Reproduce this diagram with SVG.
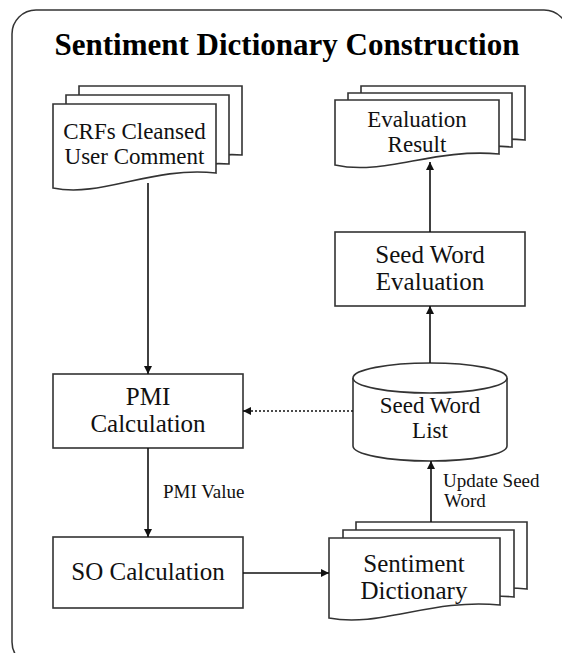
<svg xmlns="http://www.w3.org/2000/svg" width="562" height="653" viewBox="0 0 562 653">
  <defs>
    <marker id="arrow" viewBox="0 0 10 10" refX="10" refY="5" markerWidth="8" markerHeight="8" markerUnits="userSpaceOnUse" orient="auto">
      <path d="M0,0 L10,5 L0,10 Z" fill="#111"/>
    </marker>
  </defs>
  <style>
    .frame { fill: #fff; stroke: #333; stroke-width: 1.5; }
    .shape { fill: #fff; stroke: #333; stroke-width: 1.6; }
    .line { fill: none; stroke: #111; stroke-width: 1.6; }
    .dotted { fill: none; stroke: #111; stroke-width: 1.6; stroke-dasharray: 2 2; }
    text { font-family: 'Liberation Serif', 'Times New Roman', Tinos, 'DejaVu Serif', serif; }
    .title { font-weight: bold; font-size: 31px; fill: #000; text-anchor: middle; }
    .t { fill: #111; text-anchor: middle; }
    .lbl { font-size: 19px; fill: #111; }
  </style>

  <rect width="562" height="653" fill="#fff"/>
  <rect class="frame" x="12" y="10" width="556" height="656" rx="24" ry="24"/>

  <text class="title" x="287" y="55">Sentiment Dictionary Construction</text>

  <!-- stacked document: CRFs cleansed comments -->
  <g id="crfs-comment">
    <path class="shape" d="M79,86 H242 V155 C193,151 144,178 79,170 Z"/>
    <path class="shape" d="M66,95 H229 V164 C180,160 131,187 66,179 Z"/>
    <path class="shape" d="M53,104 H216 V173 C151,166 102,198 53,188 Z"/>
    <text class="t" font-size="23" x="134.5" y="139">CRFs Cleansed</text>
    <text class="t" font-size="23" x="134.5" y="164">User Comment</text>
  </g>

  <!-- stacked document: evaluation result -->
  <g id="evaluation-result">
    <path class="shape" d="M361,86 H525 V140 C459,134 410,162 361,151 Z"/>
    <path class="shape" d="M348,93 H512 V147 C446,141 397,169 348,158 Z"/>
    <path class="shape" d="M335,100 H499 V154 C433,148 384,176 335,165 Z"/>
    <text class="t" font-size="23" x="417" y="127">Evaluation</text>
    <text class="t" font-size="23" x="417" y="152">Result</text>
  </g>

  <g id="seed-word-evaluation">
    <rect class="shape" x="335" y="232" width="190" height="74"/>
    <text class="t" font-size="25" x="430" y="263">Seed Word</text>
    <text class="t" font-size="25" x="430" y="290">Evaluation</text>
  </g>

  <!-- database cylinder -->
  <g id="seed-word-list">
    <path class="shape" d="M353,378 V446 A77,15 0 0 0 507,446 V378"/>
    <ellipse class="shape" cx="430" cy="378" rx="77" ry="15"/>
    <text class="t" font-size="23" x="430" y="413">Seed Word</text>
    <text class="t" font-size="23" x="430" y="438">List</text>
  </g>

  <g id="pmi-calculation">
    <rect class="shape" x="53" y="374" width="190" height="74"/>
    <text class="t" font-size="25" x="148" y="405">PMI</text>
    <text class="t" font-size="25" x="148" y="432">Calculation</text>
  </g>

  <g id="so-calculation">
    <rect class="shape" x="53" y="537" width="190" height="71"/>
    <text class="t" font-size="25" x="148" y="580">SO Calculation</text>
  </g>

  <!-- stacked document: sentiment dictionary -->
  <g id="sentiment-dictionary">
    <path class="shape" d="M356,522 H527 V589 C458,582 407,612 356,602 Z"/>
    <path class="shape" d="M343,530 H514 V597 C445,590 394,620 343,610 Z"/>
    <path class="shape" d="M329,538 H500 V605 C431,598 380,628 329,618 Z"/>
    <text class="t" font-size="25" x="414" y="572">Sentiment</text>
    <text class="t" font-size="25" x="414" y="599">Dictionary</text>
  </g>

  <g id="connectors">
    <line class="line" x1="148" y1="183" x2="148" y2="374" marker-end="url(#arrow)"/>
    <line class="line" x1="148" y1="448" x2="148" y2="537" marker-end="url(#arrow)"/>
    <line class="line" x1="243" y1="573" x2="329" y2="573" marker-end="url(#arrow)"/>
    <line class="line" x1="431" y1="522" x2="431" y2="461" marker-end="url(#arrow)"/>
    <line class="dotted" x1="353" y1="411" x2="243" y2="411" marker-end="url(#arrow)"/>
    <line class="line" x1="430" y1="363" x2="430" y2="306" marker-end="url(#arrow)"/>
    <line class="line" x1="430" y1="232" x2="430" y2="162" marker-end="url(#arrow)"/>
    <text class="lbl" x="163" y="498">PMI Value</text>
    <text class="lbl" x="443" y="487">Update Seed</text>
    <text class="lbl" x="444" y="507">Word</text>
  </g>
</svg>
